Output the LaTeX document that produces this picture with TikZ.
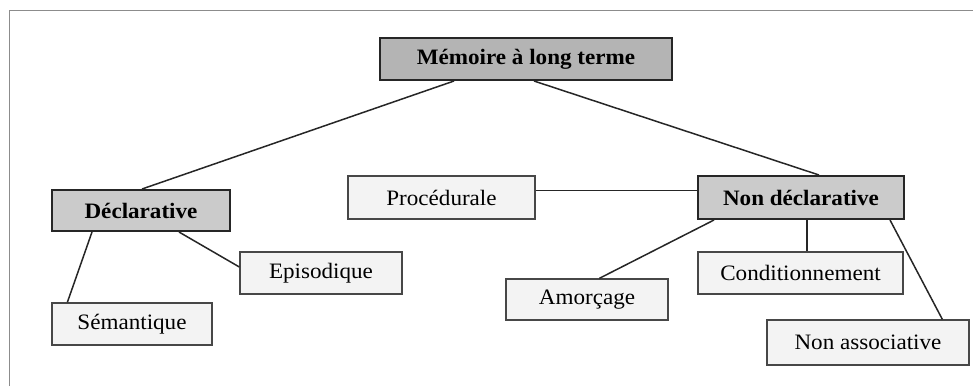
\documentclass[tikz,border=0pt]{standalone}
\usepackage{fontspec}
\setmainfont{Liberation Serif}[FakeStretch=1.05]
\definecolor{topfill}{HTML}{B4B4B4}
\definecolor{midfill}{HTML}{CBCBCB}
\definecolor{leaffill}{HTML}{F3F3F3}
\definecolor{edge}{HTML}{262626}
\definecolor{framecol}{HTML}{8C8C8C}
\tikzset{
  box/.style={draw=edge, rectangle, inner sep=0pt, font=\fontsize{22}{26}\selectfont},
  rootbox/.style={box, fill=topfill, line width=2pt, font=\fontsize{22}{26}\selectfont\bfseries},
  catbox/.style={box, fill=midfill, line width=2pt, font=\fontsize{22}{26}\selectfont\bfseries},
  leafbox/.style={box, draw=edge!85, fill=leaffill, line width=1.3pt},
  link/.style={draw=edge, line width=1.5pt},
}
\begin{document}
\begin{tikzpicture}[x=1pt, y=-1pt]
\useasboundingbox (0,0) rectangle (973,386);
% page frame
\draw[framecol, line width=1pt] (9,386) -- (9,10) -- (973,10);

% boxes
\node[rootbox, minimum width=292pt, minimum height=42pt] (mlt) at (526,59) {Mémoire à long terme};
\node[catbox, minimum width=178pt, minimum height=41pt] (decl) at (141,210.5) {Déclarative};
\node[catbox, minimum width=206pt, minimum height=43pt] (ndecl) at (801,197.5) {Non déclarative};
\node[leafbox, minimum width=160pt, minimum height=42pt] (sem) at (132,324) {Sémantique};
\node[leafbox, minimum width=162pt, minimum height=42pt] (epi) at (321,273) {Episodique};
\node[leafbox, minimum width=187pt, minimum height=43pt] (proc) at (441.5,197.5) {Procédurale};
\node[leafbox, minimum width=162pt, minimum height=41pt] (amor) at (587,299.5) {Amorçage};
\node[leafbox, minimum width=205pt, minimum height=42pt] (cond) at (800.5,273) {Conditionnement};
\node[leafbox, minimum width=202pt, minimum height=45pt] (nass) at (868,342.5) {Non associative};

% connectors
\draw[link] ([xshift=75pt]mlt.south west) -- ([xshift=91pt]decl.north west);
\draw[link] ([xshift=155pt]mlt.south west) -- ([xshift=122pt]ndecl.north west);
\draw[link] ([xshift=41pt]decl.south west) -- ([xshift=16pt]sem.north west);
\draw[link] ([xshift=128pt]decl.south west) -- ([yshift=6pt]epi.west);
\draw[link] ([yshift=7pt]proc.east) -- ([yshift=7pt]ndecl.west);
\draw[link] ([xshift=17pt]ndecl.south west) -- ([xshift=94pt]amor.north west);
\coordinate (cj) at ([xshift=110pt]ndecl.south west);
\draw[link] (cj) -- (cj |- cond.north);
\draw[link] ([xshift=193pt]ndecl.south west) -- ([xshift=176pt]nass.north west);
\end{tikzpicture}
\end{document}
